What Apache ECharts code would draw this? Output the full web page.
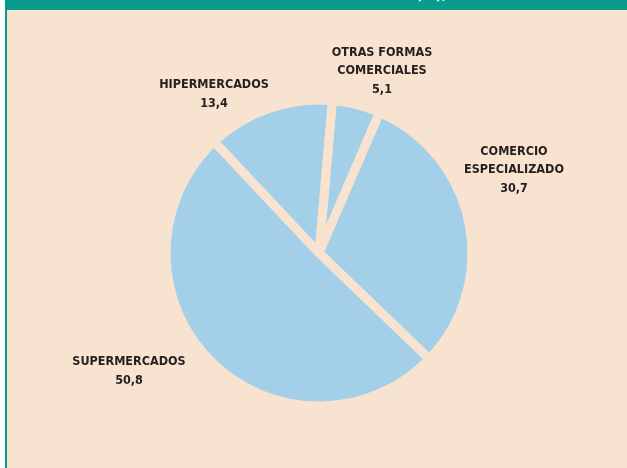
<!DOCTYPE html>
<html>
<head>
<meta charset="utf-8">
<script src="https://cdn.jsdelivr.net/npm/echarts@6/dist/echarts.min.js"></script>
<style>
html,body{margin:0;padding:0;background:#ffffff;}
#c{width:627px;height:468px;}
</style>
</head>
<body>
<div id="c"></div>
<script>
const categories = ['OTRAS FORMAS\nCOMERCIALES', 'COMERCIO\nESPECIALIZADO', 'SUPERMERCADOS', 'HIPERMERCADOS'];
const values = [5.1, 30.7, 50.8, 13.4];
const valueLabels = ['5,1', '30,7', '50,8', '13,4'];
const labelAnchors = [[382, 71], [514, 170], [129, 371], [214, 94]];

const BG = '#F8E3D0';
const TEAL = '#089A8B';
const BLUE = '#A3D0E8';
const FONT = '"DejaVu Sans Condensed", sans-serif';

const chart = echarts.init(document.getElementById('c'), null, {renderer: 'canvas'});
chart.setOption({
  backgroundColor: '#ffffff',
  animation: false,
  graphic: [
    {type: 'rect', shape: {x: 5, y: 0, width: 622, height: 468}, style: {fill: TEAL}, z: -10},
    {type: 'rect', shape: {x: 7, y: 10, width: 620, height: 458}, style: {fill: BG}, z: -9},
    {type: 'text', x: 18, y: -12, style: {text: 'VENTAS DEL COMERCIO MINORISTA POR FORMATOS (%), 2004', fill: '#ffffff', font: 'bold 15px ' + FONT}, z: -8}
  ],
  series: [{
    type: 'pie',
    center: [319, 253],
    radius: 153,
    startAngle: 85,
    clockwise: true,
    data: categories.map((c, i) => ({name: c, value: values[i]})),
    itemStyle: {color: BLUE, borderColor: BG, borderWidth: 9},
    emphasis: {disabled: true},
    labelLine: {show: false},
    label: {
      show: true,
      position: 'outside',
      formatter: p => p.name + '\n' + valueLabels[p.dataIndex],
      color: '#231f20',
      fontFamily: FONT,
      fontWeight: 'bold',
      fontSize: 12.5,
      lineHeight: 18.5,
      align: 'center',
      overflow: 'none',
      width: 200
    },
    labelLayout: p => ({
      x: labelAnchors[p.dataIndex][0],
      y: labelAnchors[p.dataIndex][1],
      align: 'center',
      verticalAlign: 'middle'
    })
  }]
});
</script>
</body>
</html>
